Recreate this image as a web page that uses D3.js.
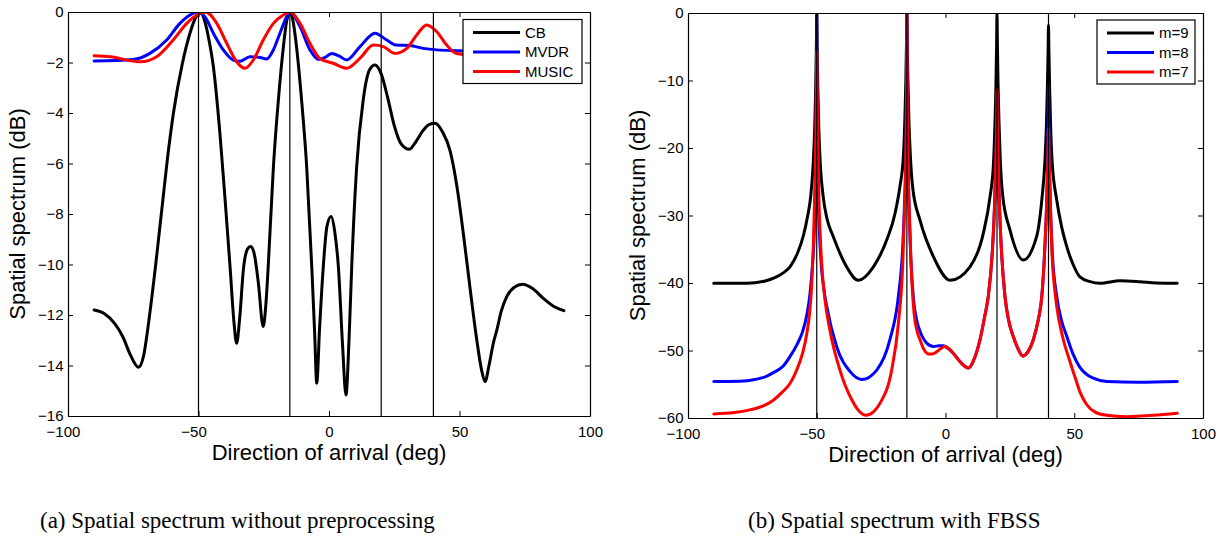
<!DOCTYPE html>
<html>
<head>
<meta charset="utf-8">
<script src="https://cdn.jsdelivr.net/npm/d3@7"></script>
<style>
  body { margin: 0; background: #fff; }
  svg { display: block; }
</style>
</head>
<body>
<svg id="fig" width="1221" height="536"></svg>
<script>
// ---- data ----
const xTicks = [-100, -50, 0, 50, 100];
const yTicksA = [0, -2, -4, -6, -8, -10, -12, -14, -16];
const yTicksB = [0, -10, -20, -30, -40, -50, -60];
const doaMarks = [-50, -15, 20, 40];

const namesA = ['CB', 'MVDR', 'MUSIC'];
const namesB = ['m=9', 'm=8', 'm=7'];
const lineColors = ['#000000', '#0000ff', '#ff0000'];

// (a) spectrum without preprocessing: [deg, dB]
const cbPts = [
  [-90, -11.8], [-86, -11.95], [-82, -12.35], [-79, -12.86], [-76, -13.6], [-73, -14.07],
  [-71, -13.6], [-69.5, -12.6], [-68, -11.4], [-66.5, -10.1], [-65, -8.7], [-63.5, -7.3],
  [-62, -5.9], [-59.6, -4], [-56.1, -2], [-53.3, -0.85], [-51, -0.2], [-49.4, 0],
  [-47.5, -0.4], [-46, -1.1], [-44.3, -2.17], [-41.8, -4.8], [-39.8, -7.45], [-37.9, -10.1],
  [-36.4, -12.3], [-35.4, -13.12], [-34.2, -12.1], [-32.8, -10.2], [-31.3, -9.4], [-30.0, -9.29],
  [-28.6, -9.6], [-27.1, -10.7], [-25.2, -12.46], [-24.2, -11.6], [-23.3, -10.1], [-21.3, -6.13],
  [-19.4, -3.49], [-17.5, -1.4], [-16.2, -0.35], [-14.9, 0], [-13.8, -0.35], [-13.0, -0.9],
  [-10.5, -3.49], [-8.55, -6.13], [-6.6, -10.1], [-5.5, -12.7], [-4.7, -14.7], [-3.6, -12.5],
  [-2.2, -10.1], [-0.8, -8.5], [0.8, -8.1], [2.2, -8.7], [3.6, -10.1], [5.2, -13.2], [6.5, -15.17],
  [7.7, -12.9], [8.7, -10.1], [10.6, -6.13], [13.1, -3.49], [15.5, -2.3], [17.6, -2.1],
  [20, -2.45], [22.5, -3.4], [25, -4.5], [27.5, -5.2], [30.8, -5.44], [33.5, -5.1], [36, -4.7],
  [38.5, -4.45], [40.6, -4.41], [43.5, -4.75], [46.4, -5.5], [49, -6.9], [51.5, -8.8],
  [54, -10.9], [56.5, -12.9], [58.5, -14.2], [59.8, -14.64], [61.3, -14.0], [63, -13.1],
  [64.3, -12.6], [66, -11.85], [68.1, -11.27], [71, -10.9], [74.2, -10.78], [78, -10.95],
  [82.1, -11.34], [86, -11.65], [90, -11.83]
];
const mvdrPts = [
  [-90, -1.94], [-75, -1.88], [-68.6, -1.64], [-62.2, -1.11], [-57.1, -0.45], [-53.3, -0.12],
  [-50.5, 0], [-47.5, -0.2], [-44.3, -0.84], [-40.5, -1.5], [-36.7, -1.9], [-34.1, -1.95],
  [-30.3, -1.77], [-26.4, -1.8], [-23.9, -1.86], [-21.3, -1.5], [-18.8, -0.84], [-16.2, -0.19],
  [-14.9, 0], [-11.1, -0.58], [-7.3, -1.5], [-4.1, -1.88], [-1.5, -1.8], [1.0, -1.64],
  [4.0, -1.75], [6.8, -1.9], [11.9, -1.37], [17.6, -0.84], [22.1, -1.11], [25.9, -1.31],
  [31.0, -1.33], [36.1, -1.44], [41.3, -1.5], [48.9, -1.53], [60, -1.55], [75, -1.55], [90, -1.55]
];
const musicPts = [
  [-90, -1.73], [-83.9, -1.77], [-72.4, -1.97], [-66, -1.77], [-59.7, -1.11], [-54.5, -0.45],
  [-50.7, -0.12], [-47.3, 0], [-43.0, -0.45], [-39.2, -1.24], [-35.4, -1.97], [-32.2, -2.23],
  [-29, -1.9], [-25.2, -1.11], [-21.3, -0.45], [-17.5, -0.12], [-14.9, 0], [-11.1, -0.45],
  [-7.3, -1.24], [-3.4, -1.85], [1.6, -2.03], [6.8, -2.23], [11.9, -1.83], [17, -1.31],
  [20.8, -1.37], [25.3, -1.64], [29.8, -1.44], [33.6, -0.91], [37.4, -0.51], [41.3, -0.78],
  [45.1, -1.31], [48.9, -1.64], [55, -1.7], [70, -1.65], [90, -1.65]
];

// (b) spectrum with FBSS: [deg, dB]
const m9Pts = [
  [-90, -40.05], [-80, -40.05], [-74, -39.95], [-70, -39.7], [-66.5, -39.25], [-63, -38.5],
  [-60.4, -37.6], [-57.5, -35.6], [-55.2, -33], [-53.5, -30], [-52.3, -27], [-51.4, -22.5],
  [-50.8, -17], [-50.4, -11], [-50.15, -5], [-50, 0],
  [-49.85, -5], [-49.6, -11], [-49.2, -17], [-48.6, -22.5], [-47.5, -27.2], [-46, -30.5],
  [-43.6, -33.1], [-38.4, -37.6], [-33.9, -39.6], [-28, -37.6], [-22.8, -33.6], [-19.6, -29.7],
  [-17.7, -25.7], [-16.4, -21.5], [-15.8, -16], [-15.4, -10], [-15.15, -4.5], [-15, 0],
  [-14.85, -4.5], [-14.6, -10], [-14.2, -16], [-13.6, -21.5], [-12.7, -26], [-9.9, -30.7],
  [-4.7, -36.1], [1.8, -39.6], [9.5, -37.6], [14.7, -32.6], [17.3, -27.2], [18.6, -22.5],
  [19.2, -16.5], [19.6, -10.5], [19.85, -4.5], [20, 0],
  [20.15, -4.5], [20.4, -10.5], [20.8, -16.5], [21.3, -22], [22.2, -27], [25, -32.1],
  [30.2, -36.6], [35.4, -33.1], [37.4, -27.7], [38.6, -22], [39.2, -16.5], [39.6, -10.5],
  [39.85, -5.5], [40, -1.8],
  [40.15, -5.5], [40.4, -10.5], [40.8, -16.5], [41.4, -22], [43.2, -27.7], [45, -31.5],
  [47.1, -34.6], [49.6, -37.3], [52.2, -39.1], [56.1, -39.8], [60, -40.05], [67.8, -39.65],
  [75.5, -39.8], [82, -40], [90, -40.05]
];
const m8Pts = [
  [-90, -54.6], [-80, -54.55], [-74, -54.3], [-70, -53.9], [-66.5, -53.2], [-63, -52.3],
  [-60.4, -50.9], [-57.8, -49.2],
  [-55.5, -47.2], [-53.9, -44.8], [-52.6, -41.5], [-51.7, -37.5], [-51.0, -33], [-50.6, -27.5],
  [-50.3, -21], [-50.1, -11], [-50, 0],
  [-49.9, -11], [-49.7, -21], [-49.4, -27.5], [-48.9, -33], [-48.1, -38], [-47.2, -41],
  [-46.1, -43.5], [-42.3, -49.4], [-37.1, -53.1], [-32.5, -54.3], [-26.7, -52.9], [-21.6, -48.4],
  [-18.3, -42], [-16.6, -34.6], [-15.9, -28], [-15.4, -21], [-15.1, -10], [-15, 0],
  [-14.9, -10], [-14.6, -21], [-14.2, -28], [-13.5, -36], [-12.4, -42.5], [-11.2, -45.5],
  [-9.3, -47.7], [-7.3, -48.9], [-4.7, -49.4], [-2.5, -49.3], [-0.85, -49.3], [1, -49.7],
  [3, -50.4], [6, -51.8], [8.9, -52.6], [11.2, -51.2], [13.4, -48.4], [15.2, -45],
  [16.6, -42], [18.3, -34.6], [19.1, -28], [19.6, -21], [19.9, -15], [20, -12],
  [20.1, -15], [20.4, -21], [20.9, -28], [21.7, -35], [23.1, -42], [24.5, -45.5], [26.3, -47.9],
  [28, -49.6], [30, -50.8], [32, -50.2], [34.1, -48.4], [36, -45.5], [37.4, -42],
  [38.6, -34.6], [39.3, -28], [39.7, -21], [39.9, -15], [40, -10.7],
  [40.1, -15], [40.3, -21], [40.7, -28], [41.4, -35], [43.2, -42], [45, -45.5],
  [47.1, -47.9], [49.5, -50.5], [52.2, -52.5], [55, -53.6], [57.4, -54.1], [62.6, -54.6],
  [75, -54.7], [90, -54.6]
];
const m7Pts = [
  [-90, -59.4], [-82, -59.2], [-76, -58.8], [-71, -58.25], [-67, -57.4], [-63.5, -56.2],
  [-60.4, -54.9], [-57.8, -52.9], [-55.5, -50.4], [-53.9, -47.6], [-52.8, -44.5], [-52, -40.5],
  [-51.3, -34], [-50.8, -27], [-50.4, -19], [-50.15, -11], [-50, -5.7],
  [-49.85, -11], [-49.6, -19], [-49.2, -27], [-48.7, -32.5], [-48.1, -37.1], [-46.8, -42.5],
  [-44.9, -47], [-41, -52.9], [-36.4, -57.3], [-33.5, -59], [-30.9, -59.6], [-28, -59.1],
  [-25.4, -57.8], [-20.9, -52.9], [-18.3, -46], [-16.6, -37.1], [-15.9, -29], [-15.4, -21],
  [-15.1, -10], [-15, 0],
  [-14.9, -10], [-14.6, -21], [-14.1, -29], [-13.4, -37], [-12.2, -44.5], [-11, -47.2],
  [-9.9, -48.4], [-8.3, -49.9], [-6.7, -50.5], [-5, -50.5], [-3.4, -50.2], [-1.8, -49.7],
  [-0.2, -49.4], [1.3, -49.7], [3, -50.4], [6, -51.8], [8.9, -52.6], [11.2, -51.2],
  [13.4, -48.4], [15.2, -45], [16.6, -42], [18.3, -34.6], [19.1, -28], [19.6, -21],
  [19.9, -15], [20, -11.3],
  [20.1, -15], [20.4, -21], [20.9, -28], [21.7, -35], [23.1, -42], [24.5, -45.5], [26.3, -47.9],
  [28, -49.6], [30, -50.8], [32, -50.2], [34.1, -48.4], [36, -45.5], [37.4, -42], [38.6, -34.6],
  [39.3, -28], [39.7, -22.5], [40, -17.1],
  [40.3, -22.5], [40.7, -28], [41.4, -36], [42.3, -40.5], [43.2, -43.5], [45.5, -48],
  [48.3, -51.6], [50.5, -54.2], [52.5, -56.4], [54.8, -58], [58, -59.1], [62.6, -59.6],
  [70.4, -59.8], [80.7, -59.6], [90, -59.3]
];

const captionA = '(a) Spatial spectrum without preprocessing';
const captionB = '(b) Spatial spectrum with FBSS';

// ---- drawing ----
const svg = d3.select('#fig');
svg.append('rect').attr('width', 1221).attr('height', 536).attr('fill', '#fff');

const sansFont = '"Liberation Sans", Arial, Helvetica, sans-serif';
const serifFont = '"Liberation Serif", "Times New Roman", serif';

function drawPanel(opt) {
	const x = d3.scaleLinear().domain([-100, 100]).range([opt.left, opt.right]);
	const y = d3.scaleLinear().domain(opt.yDomain).range([opt.bottom, opt.top]);
	const g = svg.append('g');
	const clipId = 'clip-' + opt.id;

	g.append('defs').append('clipPath').attr('id', clipId)
		.append('rect')
		.attr('x', opt.left).attr('y', opt.top)
		.attr('width', opt.right - opt.left).attr('height', opt.bottom - opt.top);

	const plot = g.append('g').attr('clip-path', 'url(#' + clipId + ')');

	const line = d3.line()
		.x(function(d) { return x(d[0]); })
		.y(function(d) { return y(d[1]); })
		.curve(d3.curveMonotoneX);

	opt.series.forEach(function(s, i) {
		plot.append('path')
			.attr('d', line(s))
			.attr('fill', 'none')
			.attr('stroke', lineColors[i])
			.attr('stroke-width', 3)
			.attr('stroke-linejoin', 'round')
			.attr('stroke-linecap', 'round');
	});

	// thin markers at the true directions
	plot.selectAll('line.doa')
		.data(doaMarks)
		.enter().append('line')
		.attr('class', 'doa')
		.attr('x1', function(d) { return x(d); })
		.attr('x2', function(d) { return x(d); })
		.attr('y1', opt.top).attr('y2', opt.bottom)
		.attr('stroke', '#000').attr('stroke-width', 1.2);

	// axes, MATLAB style: ticks pointing inward on all four sides
	const tick = 5;
	const bottomAxis = g.append('g').attr('transform', 'translate(0,' + opt.bottom + ')')
		.call(d3.axisBottom(x).tickValues(xTicks).tickSizeInner(-tick).tickSizeOuter(0).tickPadding(10));
	bottomAxis.selectAll('text')
		.attr('dx', function(d) { return d < 0 ? -5 : 0; });

	g.append('g').attr('transform', 'translate(0,' + opt.top + ')')
		.call(d3.axisTop(x).tickValues(xTicks).tickSizeInner(-tick).tickSizeOuter(0).tickFormat(''));

	g.append('g').attr('transform', 'translate(' + opt.left + ',0)')
		.call(d3.axisLeft(y).tickValues(opt.yTicks).tickSizeInner(-tick).tickSizeOuter(0).tickPadding(4.5));

	g.append('g').attr('transform', 'translate(' + opt.right + ',0)')
		.call(d3.axisRight(y).tickValues(opt.yTicks).tickSizeInner(-tick).tickSizeOuter(0).tickFormat(''));

	g.selectAll('.tick text')
		.style('font-family', sansFont)
		.style('font-size', '15px')
		.attr('fill', '#000');
	g.selectAll('.tick line').attr('stroke', '#000').attr('stroke-width', 1);
	g.selectAll('.domain').attr('stroke', '#000').attr('stroke-width', 1.2);

	// axis titles
	g.append('text')
		.attr('x', (opt.left + opt.right) / 2)
		.attr('y', opt.bottom + 44)
		.attr('text-anchor', 'middle')
		.style('font-family', sansFont)
		.style('font-size', '22px')
		.text('Direction of arrival (deg)');

	g.append('text')
		.attr('transform', 'translate(' + (opt.left - 43) + ',' + ((opt.top + opt.bottom) / 2) + ') rotate(-90)')
		.attr('text-anchor', 'middle')
		.style('font-family', sansFont)
		.style('font-size', '22px')
		.text('Spatial spectrum (dB)');

	// legend box in the upper right corner
	const lg = g.append('g');
	lg.append('rect')
		.attr('x', opt.legend.x).attr('y', opt.legend.y)
		.attr('width', opt.legend.w).attr('height', 64)
		.attr('fill', '#fff').attr('stroke', '#000').attr('stroke-width', 1.2);

	opt.names.forEach(function(name, i) {
		const ly = opt.legend.y + 13 + i * 19.5;
		lg.append('line')
			.attr('x1', opt.legend.x + 10).attr('x2', opt.legend.x + 57)
			.attr('y1', ly).attr('y2', ly)
			.attr('stroke', lineColors[i]).attr('stroke-width', 3);
		lg.append('text')
			.attr('x', opt.legend.x + 62).attr('y', ly)
			.attr('dy', '0.35em')
			.style('font-family', sansFont)
			.style('font-size', '15px')
			.text(name);
	});
}

drawPanel({
	id: 'a', left: 68, right: 590, top: 12, bottom: 416,
	yDomain: [-16, 0], yTicks: yTicksA,
	series: [cbPts, mvdrPts, musicPts], names: namesA,
	legend: { x: 463, y: 19.5, w: 119 }
});

drawPanel({
	id: 'b', left: 688, right: 1203, top: 13, bottom: 418,
	yDomain: [-60, 0], yTicks: yTicksB,
	series: [m9Pts, m8Pts, m7Pts], names: namesB,
	legend: { x: 1097, y: 20, w: 98 }
});

// sub-figure captions
svg.append('text')
	.attr('x', 40).attr('y', 528)
	.style('font-family', serifFont)
	.style('font-size', '23px')
	.text(captionA);

svg.append('text')
	.attr('x', 748).attr('y', 528)
	.style('font-family', serifFont)
	.style('font-size', '23px')
	.text(captionB);
</script>
</body>
</html>
